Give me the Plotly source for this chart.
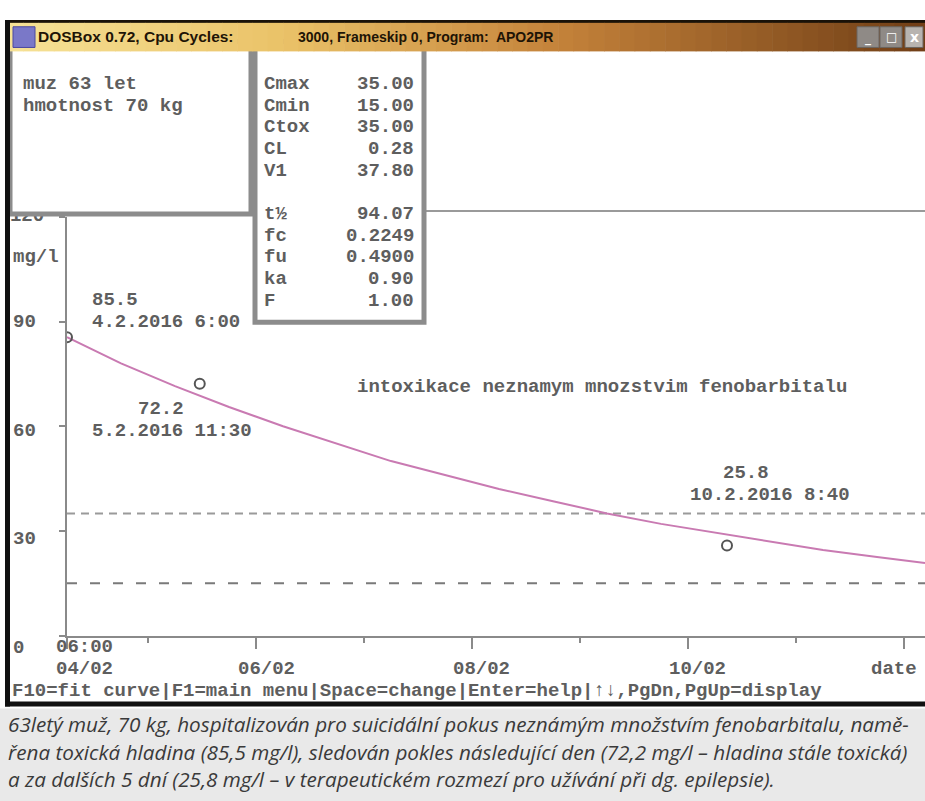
import plotly.graph_objects as go

# ---------------- data ----------------
sample_times = ["2016-02-04 06:00", "2016-02-05 11:30", "2016-02-10 08:40"]
sample_values = [85.5, 72.2, 25.8]
sample_labels = ["4.2.2016 6:00", "5.2.2016 11:30", "10.2.2016 8:40"]

curve_times = ["2016-02-04 06:00", "2016-02-04 18:00", "2016-02-05 06:00", "2016-02-05 18:00",
               "2016-02-06 06:00", "2016-02-06 18:00", "2016-02-07 06:00", "2016-02-07 18:00",
               "2016-02-08 06:00", "2016-02-08 18:00", "2016-02-09 06:00", "2016-02-09 18:00",
               "2016-02-10 06:00", "2016-02-10 18:00", "2016-02-11 06:00", "2016-02-11 18:00",
               "2016-02-12 04:40"]
curve_values = [85.5, 78.0, 71.5, 65.5, 60.0, 55.0, 50.0, 46.0, 42.0, 38.5, 35.0, 32.0,
                29.5, 27.0, 24.5, 22.5, 20.8]

c_tox = 35.0
c_min = 15.0

y_ticks = [0, 30, 60, 90, 120]
x_major_ticks = ["2016-02-04 06:00", "2016-02-06", "2016-02-08", "2016-02-10", "2016-02-12"]
x_major_labels = ["04/02", "06/02", "08/02", "10/02", "date"]
x_minor_ticks = ["2016-02-05", "2016-02-07", "2016-02-09", "2016-02-11"]
x_start_label = "06:00"
y_unit = "mg/l"

patient_lines = ["muz 63 let", "hmotnost 70 kg"]
param_names = ["Cmax", "Cmin", "Ctox", "CL", "V1", "t½", "fc", "fu", "ka", "F"]
param_values = ["35.00", "15.00", "35.00", "0.28", "37.80", "94.07", "0.2249", "0.4900", "0.90", "1.00"]

chart_note = "intoxikace neznamym mnozstvim fenobarbitalu"
menu_line = "F10=fit curve|F1=main menu|Space=change|Enter=help|↑↓,PgDn,PgUp=display"
window_title_a = "DOSBox 0.72, Cpu Cycles:"
window_title_b = "3000, Frameskip 0, Program:  APO2PR"
caption_lines = [
    "63letý muž, 70 kg, hospitalizován pro suicidální pokus neznámým množstvím fenobarbitalu, namě-",
    "řena toxická hladina (85,5 mg/l), sledován pokles následující den (72,2 mg/l – hladina stále toxická)",
    "a za dalších 5 dní (25,8 mg/l – v terapeutickém rozmezí pro užívání při dg. epilepsie).",
]

# ---------------- styling helpers ----------------
W, H = 925, 801
def px(x):
    return x / W
def py(y):
    return 1 - y / H
def row(r):          # DOS text row centre (pixels)
    return 51 + 22 * r
def col(c):          # DOS text column left edge (pixels)
    return 10 + 11.44 * c

AX_L, AX_R, AX_B, AX_T = 67, 925, 633, 208
Y_MAX = 120
def ypix(v):
    return AX_B - v * (AX_B - AX_T) / Y_MAX

DOS_FONT = dict(family="Liberation Mono, DejaVu Sans Mono, monospace", size=19, color="#5e5e5e", weight="bold")
GREY = "#8c8c8c"

fig = go.Figure()

fig.add_trace(go.Scatter(x=curve_times, y=curve_values, mode="lines",
                         line=dict(color="#c97ab2", width=2), hoverinfo="skip"))
fig.add_trace(go.Scatter(x=sample_times, y=sample_values, mode="markers",
                         marker=dict(symbol="circle-open", size=10, color="#555555",
                                     line=dict(width=2, color="#555555")),
                         cliponaxis=True))

shapes = []
# threshold lines
shapes.append(dict(type="line", xref="paper", yref="y", x0=px(AX_L), x1=1, y0=c_tox, y1=c_tox,
                   line=dict(color="#9a9a9a", width=2, dash="8px,6px"), layer="below"))
shapes.append(dict(type="line", xref="paper", yref="y", x0=px(AX_L), x1=1, y0=c_min, y1=c_min,
                   line=dict(color="#7a7a7a", width=2, dash="10px,13px"), layer="below"))

def rect(x0, y0, x1, y1, fill, line_color=None, lw=0, layer="above"):
    d = dict(type="rect", xref="paper", yref="paper", x0=px(x0), x1=px(x1), y0=py(y1), y1=py(y0),
             fillcolor=fill, layer=layer)
    d["line"] = dict(width=lw, color=line_color) if line_color else dict(width=0)
    return d

# plot top border line
shapes.append(dict(type="line", xref="paper", yref="paper", x0=px(420), x1=1, y0=py(202), y1=py(202),
                   line=dict(color="#9a9a9a", width=2), layer="above"))
# info boxes
shapes.append(rect(10, 30, 251, 205, "white", GREY, 5))
shapes.append(rect(255, 30, 424, 315, "white", GREY, 5))

# title bar gradient
stops = [(0.0, (246, 226, 150)), (0.3, (234, 194, 104)), (0.6, (196, 130, 58)), (1.0, (112, 62, 22))]
def grad(t):
    for (t0, c0), (t1, c1) in zip(stops[:-1], stops[1:]):
        if t <= t1:
            f = (t - t0) / (t1 - t0)
            return "rgb(%d,%d,%d)" % tuple(round(a + (b - a) * f) for a, b in zip(c0, c1))
    return "rgb(%d,%d,%d)" % stops[-1][1]
shapes.append(rect(5, 8, W, 12, "#1a1208"))
n = 60
for i in range(n):
    x0 = 8 + (W - 8) * i / n
    x1 = 8 + (W - 8) * (i + 1) / n + 0.6
    shapes.append(rect(x0, 11, x1, 40, grad((i + 0.5) / n)))
# icon
shapes.append(rect(13, 15, 35, 36, "#7a78c8", "#4a48a0", 1))
# window buttons
shapes.append(rect(857, 15, 879, 36, "#8f8a86", "#6a6560", 1))
shapes.append(rect(880, 15, 902, 36, "#8f8a86", "#6a6560", 1))
shapes.append(rect(905, 15, 923, 36, "#b8b4b0", "#6a6560", 1))
# window frame
shapes.append(rect(5, 8, 10, 705, "#111111"))
shapes.append(rect(5, 700, W, 705, "#111111"))
# caption background
shapes.append(rect(0, 707, W, H, "#e9e9e9"))

ann = []
def text(x, y, s, font=DOS_FONT, xanchor="left"):
    ann.append(dict(xref="paper", yref="paper", x=px(x), y=py(y), text=s, showarrow=False,
                    xanchor=xanchor, yanchor="middle", font=font))

# title texts
text(36, 25, window_title_a, dict(family="Liberation Sans, Arial, sans-serif", size=15.5, color="#1e1406", weight="bold"))
text(296, 25, window_title_b, dict(family="Liberation Sans, Arial, sans-serif", size=14, color="#1e1406", weight="bold"))
BF = dict(family="DejaVu Sans", size=12, color="white", weight="bold")
text(868, 27, "_", BF, "center")
text(891, 25, "□", BF, "center")
text(914, 25, "x", dict(family="DejaVu Sans", size=14, color="white", weight="bold"), "center")

# patient box
for i, s in enumerate(patient_lines):
    text(col(1), row(1 + i), s)
# parameters box
param_rows = [1, 2, 3, 4, 5, 7, 8, 9, 10, 11]
for name, val, r in zip(param_names, param_values, param_rows):
    text(col(22), row(r), name)
    text(416, row(r), val, xanchor="right")

# y unit
text(col(0) + 1, row(9), y_unit)
# note
text(355, row(15), chart_note)
# menu line
text(col(0), row(29), menu_line)

# y tick labels (DOS text rows), lowest label on row 27, 5 rows per 30 units
for v in y_ticks[:-1]:
    r = 27 - v / 6
    ann.append(dict(xref="paper", yref="y", x=px(col(0) + 1), y=v, text=str(v), showarrow=False,
                    xanchor="left", yanchor="middle", yshift=ypix(v) - row(r), font=DOS_FONT))

# sample labels: (value dx, value row, date dx, date row)
label_pos = [(23, 11, 23, 12), (-64, 16, -110, 17), (-6, 19, -39, 20)]
for t, v, lab, (dxv, rv, dxd, rd) in zip(sample_times, sample_values, sample_labels, label_pos):
    ann.append(dict(xref="x", yref="y", x=t, y=v, text=f"{v:.1f}", showarrow=False,
                    xanchor="left", yanchor="middle", xshift=dxv, yshift=ypix(v) - row(rv), font=DOS_FONT))
    ann.append(dict(xref="x", yref="y", x=t, y=v, text=lab, showarrow=False,
                    xanchor="left", yanchor="middle", xshift=dxd, yshift=ypix(v) - row(rd), font=DOS_FONT))

# x tick labels
x_shifts = [17, 10, 9, 9, -10]
for t, lab, sh in zip(x_major_ticks, x_major_labels, x_shifts):
    ann.append(dict(xref="x", yref="paper", x=t, y=py(row(28)), text=lab, showarrow=False,
                    xanchor="center", yanchor="middle", xshift=sh, font=DOS_FONT))
ann.append(dict(xref="x", yref="paper", x=x_major_ticks[0], y=py(row(27)), text=x_start_label,
                showarrow=False, xanchor="center", yanchor="middle", xshift=x_shifts[0], font=DOS_FONT))

# caption
CF = dict(family="Open Sans, Liberation Sans, sans-serif", size=20.7, color="#3a3a3a", style="italic")
for i, s in enumerate(caption_lines):
    text(6, 723 + 28 * i, s, CF)

fig.update_layout(
    width=W, height=H, margin=dict(l=0, r=0, t=0, b=0),
    paper_bgcolor="white", plot_bgcolor="white", showlegend=False,
    shapes=shapes, annotations=ann,
    xaxis=dict(type="date", domain=[px(AX_L), px(AX_R)], range=[curve_times[0], curve_times[-1]],
               showline=True, linecolor="#8a8a8a", linewidth=2, showgrid=False, zeroline=False,
               ticks="outside", tickvals=x_major_ticks, ticklen=11, tickwidth=2, tickcolor="#8a8a8a",
               showticklabels=False,
               minor=dict(tickvals=x_minor_ticks, ticks="outside", ticklen=5, tickwidth=2,
                          tickcolor="#8a8a8a", showgrid=False)),
    # only the top label is drawn by the axis itself (it sits partly under the info box)
    yaxis=dict(domain=[py(AX_B), py(AX_T)], range=[0, Y_MAX], showline=True, linecolor="#8a8a8a",
               linewidth=2, showgrid=False, zeroline=False, ticks="outside", ticklen=6, tickwidth=2,
               tickcolor="#8a8a8a", tickvals=y_ticks,
               ticktext=["", "", "", "", str(y_ticks[-1])], tickfont=DOS_FONT,
               ticklabelshift=-3, ticklabelstandoff=11),
)

fig.write_html("out.html", config={"displayModeBar": False},
               post_script="document.body.style.margin='0px';document.body.style.overflow='hidden';")
